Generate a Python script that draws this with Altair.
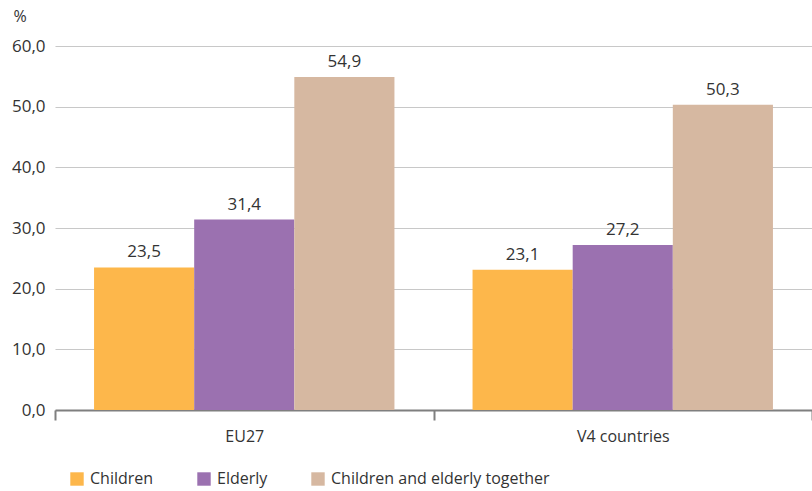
import altair as alt
import pandas as pd

groups = ["EU27", "V4 countries"]
series = ["Children", "Elderly", "Children and elderly together"]
colors = ["#FDB74B", "#9B71B0", "#D6B8A1"]
values = {
    "EU27": [23.5, 31.4, 54.9],
    "V4 countries": [23.1, 27.2, 50.3],
}

rows = []
for g in groups:
    for s, v in zip(series, values[g]):
        rows.append({"group": g, "series": s, "value": v})
df = pd.DataFrame(rows)

FONT = "Open Sans"
TXT = "#333333"

base = alt.Chart(df).transform_calculate(
    label="replace(format(datum.value, '.1f'), '.', ',')"
)

x_enc = alt.X(
    "group:N",
    sort=groups,
    title=None,
    scale=alt.Scale(paddingInner=0, paddingOuter=0),
    axis=alt.Axis(
        labelAngle=0,
        tickBand="extent",
        tickSize=10,
        tickColor="#7f7f7f",
        tickWidth=2,
        domainColor="#7f7f7f",
        domainWidth=2,
        labelFont=FONT,
        labelFontSize=16,
        labelColor=TXT,
        labelPadding=8,
        grid=False,
    ),
)
xoff = alt.XOffset("series:N", sort=series, scale=alt.Scale(paddingInner=0, paddingOuter=0.39))
y_enc = alt.Y(
    "value:Q",
    scale=alt.Scale(domain=[0, 60], nice=False),
    axis=alt.Axis(
        values=[0, 10, 20, 30, 40, 50, 60],
        labelExpr="replace(format(datum.value, '.1f'), '.', ',')",
        title="%",
        titleAngle=0,
        titleX=-42,
        titleY=-22,
        titleFont=FONT,
        titleFontSize=16,
        titleFontWeight="normal",
        titleColor=TXT,
        titleAlign="left",
        ticks=False,
        domain=False,
        labelFont=FONT,
        labelFontSize=17,
        labelColor=TXT,
        labelPadding=10,
        gridColor="#c8c8c8",
        gridWidth=1.2,
    ),
)

bars = base.mark_bar().encode(
    x=x_enc,
    xOffset=xoff,
    y=y_enc,
    color=alt.Color(
        "series:N",
        sort=series,
        scale=alt.Scale(domain=series, range=colors),
        legend=alt.Legend(
            title=None,
            orient="none",
            legendX=14,
            legendY=425,
            direction="horizontal",
            symbolType="square",
            symbolSize=180,
            symbolStrokeWidth=0,
            labelFont=FONT,
            labelFontSize=16,
            labelColor=TXT,
            labelLimit=400,
            columnPadding=42,
            labelOffset=5,
            padding=0,
        ),
    ),
)

labels = base.mark_text(
    baseline="bottom", dy=-6, font=FONT, fontSize=17, color=TXT
).encode(
    x=alt.X("group:N", sort=groups),
    xOffset=xoff,
    y=alt.Y("value:Q"),
    text="label:N",
)

chart = (
    alt.layer(bars, labels)
    .properties(
        width=757,
        height=364,
        autosize=alt.AutoSizeParams(type="none"),
        padding={"left": 55, "top": 46, "right": 0, "bottom": 81},
    )
    .configure_view(stroke=None)
)

chart.save("out.html", embed_options={"renderer": "svg", "actions": False})
